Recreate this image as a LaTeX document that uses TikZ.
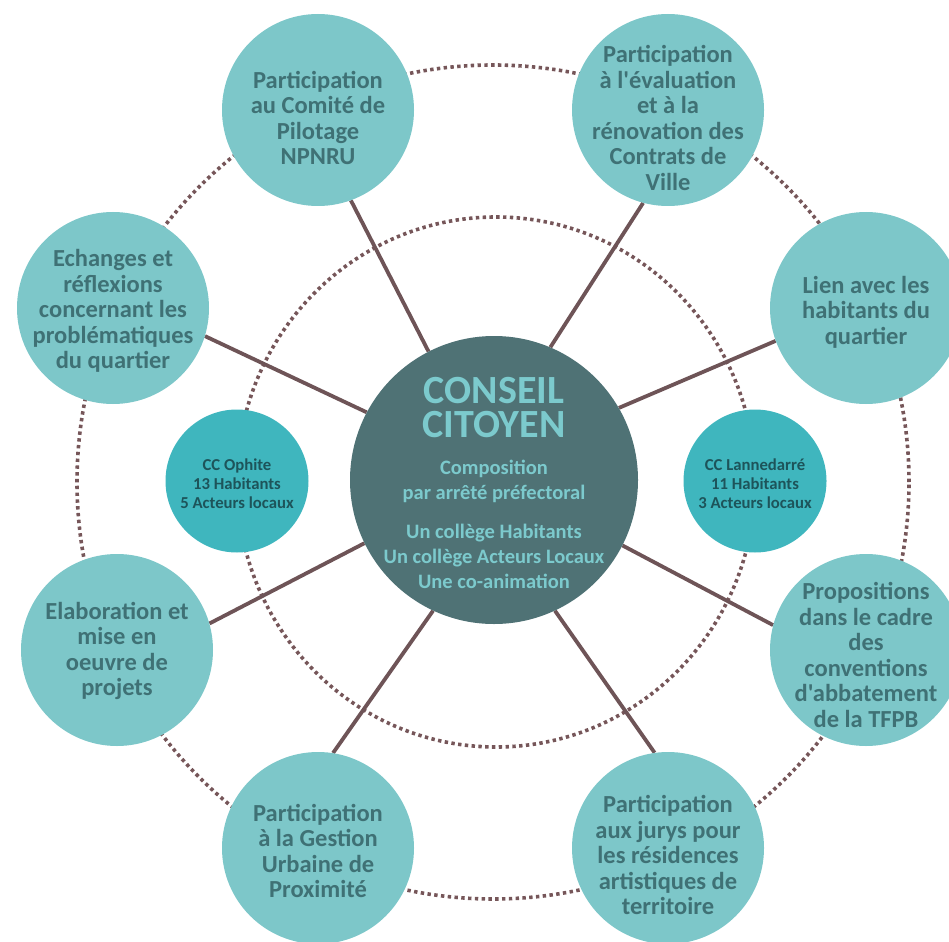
\documentclass[tikz,border=0pt]{standalone}
\usepackage{fontspec}
\setmainfont{Carlito}[Ligatures=TeXOff]
\usetikzlibrary{backgrounds}
\definecolor{outerfill}{HTML}{7DC7C9}
\definecolor{outertext}{HTML}{3F7175}
\definecolor{corefill}{HTML}{4F7275}
\definecolor{coretextc}{HTML}{7CCACD}
\definecolor{smallfill}{HTML}{3FB6BE}
\definecolor{smalltext}{HTML}{1D545A}
\definecolor{spokec}{HTML}{6E5457}
\definecolor{dotc}{HTML}{765659}
\begin{document}
\begin{tikzpicture}[x=1pt,y=-1pt,
  outer/.style={circle, fill=outerfill, minimum size=192pt, inner sep=0pt},
  outertxt/.style={text=outertext, inner sep=0pt, align=center,
    font=\bfseries\fontsize{24.5}{25.5}\selectfont},
  smallc/.style={circle, fill=smallfill, minimum size=143pt, inner sep=0pt},
  smalltxt/.style={text=smalltext, inner sep=0pt, align=center,
    font=\bfseries\fontsize{16.7}{19}\selectfont},
  core/.style={circle, fill=corefill, minimum size=288pt, inner sep=0pt},
  coretitle/.style={text=coretextc, inner sep=0pt, text height=26pt, text depth=0pt,
    font=\bfseries\fontsize{40}{34}\selectfont},
  coretxt/.style={text=coretextc, align=center, inner sep=0pt, font=\bfseries\fontsize{20.5}{25}\selectfont},
  spoke/.style={draw=spokec, line width=3.8pt},
  ring/.style={draw=dotc, line width=3.6pt, dash pattern=on 3.4pt off 3.4pt}]
\path[use as bounding box, clip] (0,0) rectangle (949,941);

% central node
\node[core] (c) at (494,480) {};
\node[coretitle] (ttla) at (494,390) {CONSEIL};
\node[coretitle] (ttlb) at (494,424) {CITOYEN};
\node[coretxt] (comp) at (494,481) {Composition\\par arrêté préfectoral};
\node[coretxt] (coll) at (494,556) {Un collège Habitants\\Un collège Acteurs Locaux\\Une co-animation};

% small nodes
\node[smallc] (oph) at (237,481) {};
\node[smalltxt] (ophtxt) at (237,484) {CC Ophite\\13 Habitants\\5 Acteurs locaux};
\node[smallc] (lan) at (755,481) {};
\node[smalltxt] (lantxt) at (755,484) {CC Lannedarré\\11 Habitants\\3 Acteurs locaux};

% outer nodes
\node[outer] (n1) at (318,110) {};
\node[outertxt] (t1) at (318,118) {Participation\\au Comité de\\Pilotage\\NPNRU};
\node[outer] (n2) at (668,110) {};
\node[outertxt] (t2) at (668,118) {Participation\\à l'évaluation\\et à la\\rénovation des\\Contrats de\\Ville};
\node[outer] (n3) at (866,308) {};
\node[outertxt] (t3) at (866,312) {Lien avec les\\habitants du\\quartier};
\node[outer] (n4) at (866,650) {};
\node[outertxt] (t4) at (866,655) {Propositions\\dans le cadre\\des\\conventions\\d'abbatement\\de la TFPB};
\node[outer] (n5) at (668,848) {};
\node[outertxt] (t5) at (668,855) {Participation\\aux jurys pour\\les résidences\\artistiques de\\territoire};
\node[outer] (n6) at (318,848) {};
\node[outertxt] (t6) at (318,851) {Participation\\à la Gestion\\Urbaine de\\Proximité};
\node[outer] (n7) at (117,650) {};
\node[outertxt] (t7) at (117,651) {Elaboration et\\mise en\\oeuvre de\\projets};
\node[outer] (n8) at (113,308) {};
\node[outertxt] (t8) at (113,311) {Echanges et\\réflexions\\concernant les\\problématiques\\du quartier};

\begin{scope}[on background layer]
  \coordinate (oc) at (493,482);
  \coordinate (ic) at (496,482);
  \draw[ring] (oc) ellipse [x radius=416pt, y radius=417pt];
  \draw[ring] (ic) ellipse [x radius=259pt, y radius=265pt];
  \draw[spoke] (c.117.3) -- (n1.-70.8);
  \draw[spoke] (c.67) -- (n2.-105.5);
  \draw[spoke] (c.30.7) -- (n3.200.8);
  \draw[spoke] (c.-27.8) -- (n4.165.7);
  \draw[spoke] (c.-65) -- (n5.98.4);
  \draw[spoke] (c.-115.7) -- (n6.81);
  \draw[spoke] (c.206.4) -- (n7.16.2);
  \draw[spoke] (c.152.6) -- (n8.-17.7);
\end{scope}
\end{tikzpicture}
\end{document}
